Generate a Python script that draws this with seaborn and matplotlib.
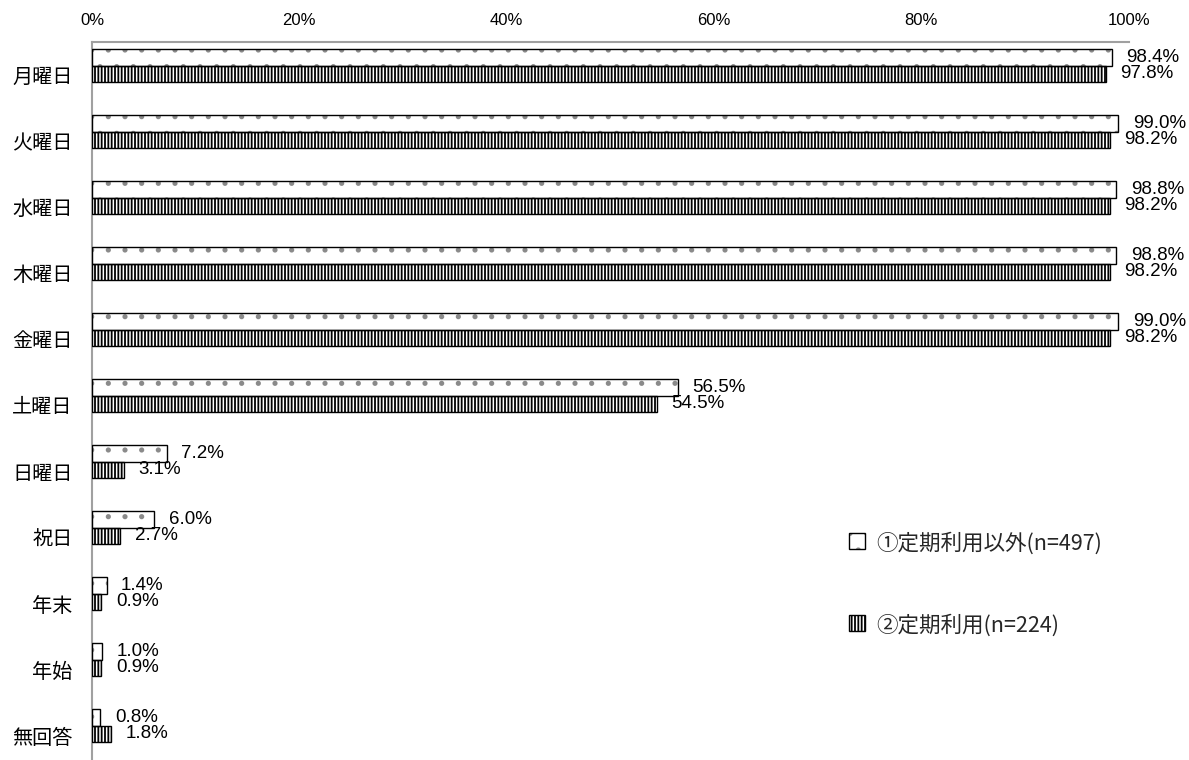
import matplotlib
matplotlib.use("Agg")
import matplotlib.pyplot as plt
from matplotlib import font_manager
from matplotlib.patches import Rectangle
from matplotlib.legend_handler import HandlerBase
import seaborn as sns
import pandas as pd
import numpy as np

categories = ["月曜日", "火曜日", "水曜日", "木曜日", "金曜日", "土曜日",
              "日曜日", "祝日", "年末", "年始", "無回答"]
series_names = ["①定期利用以外(n=497)", "②定期利用(n=224)"]
values_1 = [98.4, 99.0, 98.8, 98.8, 99.0, 56.5, 7.2, 6.0, 1.4, 1.0, 0.8]
values_2 = [97.8, 98.2, 98.2, 98.2, 98.2, 54.5, 3.1, 2.7, 0.9, 0.9, 1.8]
x_ticks = [0, 20, 40, 60, 80, 100]
x_tick_labels = ["0%", "20%", "40%", "60%", "80%", "100%"]

sns.set_theme(style="white")
available = {f.name for f in font_manager.fontManager.ttflist}
if "Liberation Sans Narrow" in available:
    num_font, val_fs, tick_fs = "Liberation Sans Narrow", 14.5, 13
else:
    num_font, val_fs, tick_fs = "Liberation Sans", 13.5, 12
plt.rcParams["font.family"] = ["Noto Sans CJK JP", "DejaVu Sans"]
plt.rcParams["hatch.linewidth"] = 1.3

df = pd.DataFrame({
    "cat": categories * 2,
    "series": [series_names[0]] * len(categories) + [series_names[1]] * len(categories),
    "value": values_1 + values_2,
})

fig = plt.figure(figsize=(11.89, 7.60), dpi=100)
ax = fig.add_axes([92 / 1189, 0.0, (1128.6 - 92) / 1189, 1 - 42 / 760])

sns.barplot(data=df, x="value", y="cat", hue="series", order=categories,
            hue_order=series_names, orient="h", width=0.5, ax=ax,
            palette=["white", "white"], saturation=1, legend=False)

DOT_HATCH, DOT_COLOR = ".", "#8a8a8a"
STRIPE_HATCH, STRIPE_COLOR = "|||||", "black"
styles = [(DOT_HATCH, DOT_COLOR), (STRIPE_HATCH, STRIPE_COLOR)]
n = len(categories)
patches = list(ax.patches)
for i, p in enumerate(patches):
    hatch, hc = styles[i // n]
    p.set_facecolor("white")
    p.set_edgecolor(hc)
    p.set_hatch(hatch)
    p.set_linewidth(0)
    ax.add_patch(Rectangle(p.get_xy(), p.get_width(), p.get_height(),
                           fill=False, edgecolor="black", linewidth=1.0, zorder=3))
    val = p.get_width()
    ax.annotate(f"{val:.1f}%", (val, p.get_y() + p.get_height() / 2),
                xytext=(10.5, 0), textcoords="offset points",
                ha="left", va="center", fontsize=val_fs, family=num_font,
                color="black", annotation_clip=False)

ax.set_xlim(0, 100)
ax.set_ylim(10.52, -0.356)
ax.xaxis.tick_top()
ax.set_xticks(x_ticks)
ax.set_xticklabels(x_tick_labels, family=num_font, fontsize=tick_fs)
ax.set_yticks(np.arange(n) + 0.15)
ax.set_yticklabels(categories, fontsize=14.5)
ax.tick_params(axis="x", length=0, pad=10, colors="black")
ax.tick_params(axis="y", length=0, pad=14, colors="black")
ax.set_xlabel("")
ax.set_ylabel("")
for side in ["right", "bottom"]:
    ax.spines[side].set_visible(False)
for side in ["top", "left"]:
    ax.spines[side].set_color("#a0a0a0")
    ax.spines[side].set_linewidth(1.5)


class HatchHandler(HandlerBase):
    def __init__(self, hatch, hc):
        super().__init__()
        self.hatch = hatch
        self.hc = hc

    def create_artists(self, legend, orig, xd, yd, w, h, fs, trans):
        r1 = Rectangle((xd, yd), w, h, facecolor="white", edgecolor=self.hc,
                       hatch=self.hatch, linewidth=0, transform=trans)
        r2 = Rectangle((xd, yd), w, h, fill=False, edgecolor="black",
                       linewidth=1.0, transform=trans)
        return [r1, r2]


h1 = Rectangle((0, 0), 1, 1)
h2 = Rectangle((0, 0), 1, 1)
fig.legend([h1, h2], series_names,
           handler_map={h1: HatchHandler(DOT_HATCH, DOT_COLOR),
                        h2: HatchHandler(STRIPE_HATCH, STRIPE_COLOR)},
           loc="upper left", bbox_to_anchor=(834 / 1189, 1 - 517 / 760),
           frameon=False, fontsize=15.5, handlelength=0.75, handleheight=0.75,
           handletextpad=0.5, labelspacing=2.75, borderpad=0.2)

fig.savefig("out.png", dpi=100)
